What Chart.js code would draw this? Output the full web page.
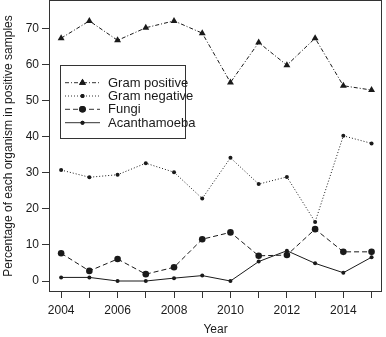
<!DOCTYPE html>
<html>
<head>
<meta charset="utf-8">
<script src="https://cdn.jsdelivr.net/npm/chart.js@4"></script>
<style>
  html, body { margin: 0; padding: 0; background: #fff; overflow: hidden; }
  #wrap { width: 386px; height: 337px; overflow: hidden; }
  /* chart.js keeps ~4px above the plot area; pull the canvas up so the frame sits at the top */
  #chart { display: block; margin-top: -4px; }
</style>
</head>
<body>
<div id="wrap"><canvas id="chart" width="386" height="341"></canvas></div>
<script>
// Data
const years = [2004, 2005, 2006, 2007, 2008, 2009, 2010, 2011, 2012, 2013, 2014, 2015];
const gramPositive = [67.4, 72.2, 66.8, 70.3, 72.2, 68.8, 55.1, 66.2, 59.9, 67.4, 54.2, 53.0];
const gramNegative = [30.8, 28.8, 29.5, 32.7, 30.2, 22.9, 34.2, 26.9, 28.9, 16.4, 40.3, 38.2];
const fungi = [7.7, 2.8, 6.1, 1.9, 3.8, 11.6, 13.5, 7.0, 7.2, 14.4, 8.1, 8.1];
const acanthamoeba = [1.0, 1.0, 0.0, 0.0, 0.8, 1.5, 0.0, 5.4, 8.4, 4.9, 2.3, 6.6];
const yTicks = [0, 10, 20, 30, 40, 50, 60, 70];
const xLabelYears = [2004, 2006, 2008, 2010, 2012, 2014];

const FONT = "'Liberation Sans', Arial, sans-serif";
const INK = "#1a1a1a";

function pts(vals) {
  return vals.map((v, i) => ({ x: years[i], y: v }));
}

function series(label, vals, dash, style, radius) {
  return {
    label,
    data: pts(vals),
    borderColor: INK,
    backgroundColor: INK,
    borderWidth: 1,
    borderDash: dash,
    pointStyle: style,
    pointRadius: radius,
    pointBorderWidth: 0,
    pointBackgroundColor: INK,
    tension: 0
  };
}

// frame + legend box drawn inside the plot
const framePlugin = {
  id: "frame",
  afterDraw(chart) {
    const { ctx, chartArea: a } = chart;
    ctx.save();
    ctx.strokeStyle = "#333";
    ctx.lineWidth = 1;
    ctx.strokeRect(Math.round(a.left) + 0.5, Math.round(a.top) + 0.5,
      Math.round(a.right - a.left) - 1, Math.round(a.bottom - a.top) - 1);

    // legend, placed relative to the plot's top-left corner
    const lx = Math.round(a.left) + 11.5, ly = Math.round(a.top) + 65.5;
    ctx.strokeRect(lx, ly, 125, 73);
    const rows = [17.2, 30.5, 43.8, 57.2];
    chart.data.datasets.forEach((ds, i) => {
      const y = ly + rows[i];
      ctx.setLineDash(ds.borderDash);
      ctx.beginPath();
      ctx.moveTo(lx + 4.5, y);
      ctx.lineTo(lx + 39.5, y);
      ctx.stroke();
      ctx.setLineDash([]);
      Chart.helpers.drawPoint(ctx, { pointStyle: ds.pointStyle, radius: ds.pointRadius, borderWidth: 0 }, lx + 22, y);
      ctx.fillStyle = INK;
      ctx.fill();
      ctx.font = "13px " + FONT;
      ctx.textBaseline = "middle";
      ctx.textAlign = "left";
      ctx.fillText(ds.label, lx + 47.5, y + 0.5);
    });
    ctx.restore();
  }
};

new Chart(document.getElementById("chart"), {
  type: "line",
  data: {
    datasets: [
      series("Gram positive", gramPositive, [4, 2, 1, 2], "triangle", 4),
      series("Gram negative", gramNegative, [1, 2], "circle", 2),
      series("Fungi", fungi, [5, 3], "circle", 3.3),
      series("Acanthamoeba", acanthamoeba, [], "circle", 2)
    ]
  },
  options: {
    responsive: false,
    animation: false,
    layout: { padding: { top: 0, right: 3, left: 0, bottom: 0 } },
    plugins: { legend: { display: false }, tooltip: { enabled: false } },
    scales: {
      x: {
        type: "linear",
        min: 2003.57,
        max: 2015.37,
        afterBuildTicks: s => { s.ticks = years.map(v => ({ value: v })); },
        afterFit: s => { s.height = 45; s.paddingLeft = 0; s.paddingRight = 0; },
        grid: { drawOnChartArea: false, drawTicks: true, tickLength: 6, color: "#333" },
        border: { display: false },
        ticks: {
          autoSkip: false,
          maxRotation: 0,
          padding: 5,
          color: INK,
          font: { family: FONT, size: 12 },
          callback: v => xLabelYears.includes(v) ? String(v) : ""
        },
        title: { display: true, text: "Year", color: INK, font: { family: FONT, size: 12 }, padding: { top: 0, bottom: 0 } }
      },
      y: {
        min: -3.05,
        max: 78,
        afterBuildTicks: s => { s.ticks = yTicks.map(v => ({ value: v })); },
        afterFit: s => { s.width = 49; s.paddingTop = 0; s.paddingBottom = 0; },
        grid: { drawOnChartArea: false, drawTicks: true, tickLength: 7, color: "#333" },
        border: { display: false },
        ticks: { padding: 3, color: INK, font: { family: FONT, size: 12 } },
        title: { display: true, text: "Percentage of each organism in positive samples", color: INK, font: { family: FONT, size: 12 }, padding: { top: 1, bottom: 0 } }
      }
    }
  },
  plugins: [framePlugin]
});
</script>
</body>
</html>
